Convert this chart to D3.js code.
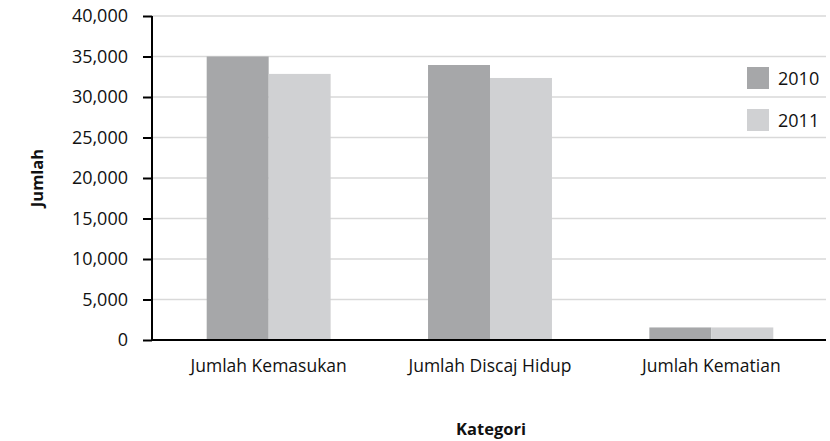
<!DOCTYPE html>
<html><head><meta charset="utf-8">
<script src="https://cdn.jsdelivr.net/npm/d3@7"></script>
<style>body{margin:0;background:#fff}svg{display:block;font-family:"Open Sans",sans-serif}</style>
</head><body><svg id="c" width="830" height="441"></svg>
<script>
const categories = ["Jumlah Kemasukan", "Jumlah Discaj Hidup", "Jumlah Kematian"];
const seriesNames = ["2010", "2011"];
const values2010 = [35000, 33950, 1550];
const values2011 = [32850, 32350, 1550];
const yTicks = [0, 5000, 10000, 15000, 20000, 25000, 30000, 35000, 40000];
const colors = ["#a6a7a9", "#d0d1d3"];

const svg = d3.select("#c");
const pL = 152, pR = 826, pT = 16, pB = 340;
const x = d3.scaleBand().domain(categories).range([158, 822]).paddingInner(0.44).paddingOuter(0.22);
const xs = d3.scaleBand().domain(seriesNames).range([0, x.bandwidth()]);
const y = d3.scaleLinear().domain([0, 40000]).range([pB, pT]);
const fmt = d3.format(",");

// gridlines
svg.append("g").selectAll("line").data(yTicks.filter(d => d > 0)).join("line")
  .attr("x1", pL).attr("x2", pR).attr("y1", d => y(d)).attr("y2", d => y(d))
  .attr("stroke", "#d9d9d9").attr("stroke-width", 1.3);

// bars
const data = categories.map((c, i) => ({c, vals: [values2010[i], values2011[i]]}));
const g = svg.append("g");
data.forEach(d => {
  d.vals.forEach((v, j) => {
    g.append("rect").attr("x", x(d.c) + xs(seriesNames[j])).attr("width", xs.bandwidth())
      .attr("y", y(v)).attr("height", y(0) - y(v)).attr("fill", colors[j]);
  });
});

// y axis
const ya = svg.append("g").attr("transform", `translate(${pL},0)`)
  .call(d3.axisLeft(y).tickValues(yTicks).tickFormat(fmt).tickSize(9).tickPadding(15));
ya.select(".domain").attr("stroke", "#000").attr("stroke-width", 2).attr("d", `M0,${pT}V${pB}`);
ya.selectAll(".tick line").attr("stroke", "#000").attr("stroke-width", 2);
ya.selectAll(".tick text").attr("font-size", 18).attr("fill", "#111").attr("font-family", '"Open Sans",sans-serif');

// x axis
const xa = svg.append("g").attr("transform", `translate(0,${pB})`)
  .call(d3.axisBottom(x).tickSize(0).tickPadding(20));
xa.select(".domain").attr("stroke", "#000").attr("stroke-width", 2).attr("d", `M${pL},0H${pR}`);
xa.selectAll(".tick text").attr("font-size", 17.5).attr("fill", "#111").attr("font-family", '"Open Sans",sans-serif');

// axis titles
svg.append("text").attr("transform", "translate(43,178) rotate(-90)").attr("text-anchor", "middle")
  .attr("font-weight", "bold").attr("font-size", 16.5).attr("fill", "#111").text("Jumlah");
svg.append("text").attr("x", 491).attr("y", 435).attr("text-anchor", "middle")
  .attr("font-weight", "bold").attr("font-size", 16.5).attr("fill", "#111").text("Kategori");

// legend
const lg = svg.append("g");
seriesNames.forEach((s, j) => {
  const yy = 67 + j * 42;
  lg.append("rect").attr("x", 747).attr("y", yy).attr("width", 22).attr("height", 22).attr("fill", colors[j]);
  lg.append("text").attr("x", 778).attr("y", yy + 18).attr("font-size", 18).attr("fill", "#111").text(s);
});
</script></body></html>
